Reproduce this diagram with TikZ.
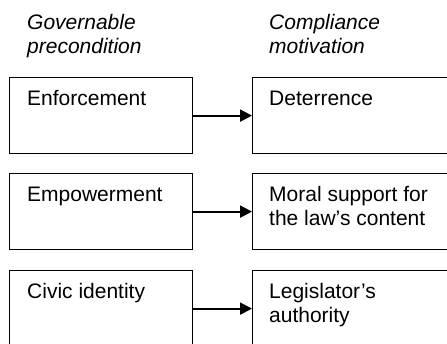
\documentclass[tikz,border=0pt]{standalone}
\usepackage{fontspec}
\setmainfont{Liberation Sans}
\usetikzlibrary{arrows.meta}
\begin{document}
\begin{tikzpicture}[x=1pt,y=-1pt,
  box/.style={draw,line width=1.2pt,minimum height=76pt,inner sep=0pt,anchor=north west},
  lbox/.style={box,minimum width=183pt},
  rbox/.style={box,minimum width=230pt},
  lab/.style={anchor=base west,inner sep=0pt,font=\fontsize{21}{24}\selectfont},
  head/.style={lab,font=\fontsize{21}{24}\selectfont\itshape},
  conn/.style={line width=2pt,-{Triangle[length=12pt,width=12pt]}}]
\useasboundingbox (0,0) rectangle (447,343);
\clip (0,0) rectangle (447,343);
\node[head] (h1a) at (27,29) {Governable};
\node[head] (h1b) at (27,53) {precondition};
\node[head] (h2a) at (269,29) {Compliance};
\node[head] (h2b) at (269,53) {motivation};
\node[lbox] (l1) at (9,77) {};
\node[lbox] (l2) at (9,173) {};
\node[lbox] (l3) at (9,270) {};
\node[rbox] (r1) at (252,77) {};
\node[rbox] (r2) at (252,173) {};
\node[rbox] (r3) at (252,270) {};
\node[lab] (t1) at (27,105) {Enforcement};
\node[lab] (t2) at (27,201) {Empowerment};
\node[lab] (t3) at (27,298) {Civic identity};
\node[lab] (u1) at (269,105) {Deterrence};
\node[lab] (u2a) at (269,201) {Moral support for};
\node[lab] (u2b) at (269,225) {the law’s content};
\node[lab] (u3a) at (269,298) {Legislator’s};
\node[lab] (u3b) at (269,322) {authority};
\draw[conn] (l1.east) -- (r1.west);
\draw[conn] (l2.east) -- (r2.west);
\draw[conn] (l3.east) -- (r3.west);
\end{tikzpicture}
\end{document}
